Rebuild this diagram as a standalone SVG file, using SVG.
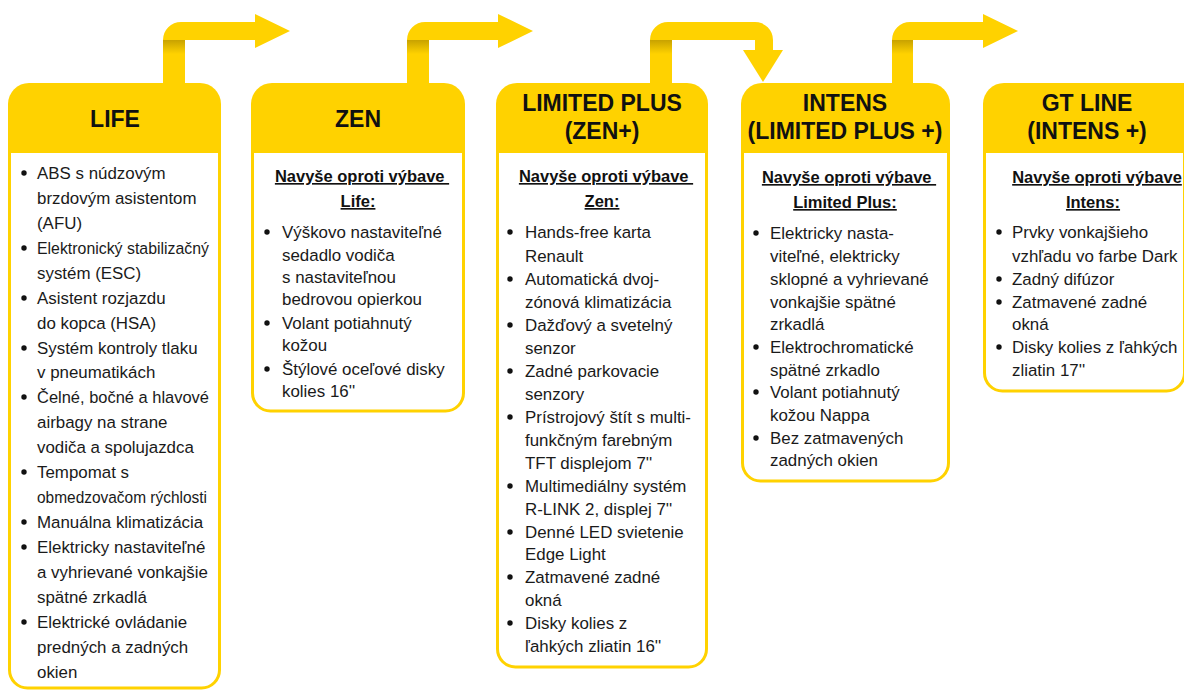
<svg xmlns="http://www.w3.org/2000/svg" width="1184" height="691" viewBox="0 0 1184 691">
<style>
.hdr{fill:#FFD200}
.body{fill:#fff;stroke:#FFD200;stroke-width:3}
.arrow{fill:#FFD200}
.title{font-family:"Liberation Sans",Arial,sans-serif;font-weight:bold;font-size:23px;fill:#111;text-anchor:middle}
.sub{font-family:"Liberation Sans",Arial,sans-serif;font-weight:bold;font-size:16.5px;fill:#111;text-anchor:middle;text-decoration:underline;white-space:pre}
.t{font-family:"Liberation Sans",Arial,sans-serif;font-size:16.9px;fill:#1a1a1a}
.dot{fill:#111}
</style>
<defs>
<linearGradient id="shade" x1="0" y1="0" x2="0" y2="1">
<stop offset="0" stop-color="#C8A200"/>
<stop offset="1" stop-color="#FFD200"/>
</linearGradient>
</defs>
<g id="connectors">
<path class="arrow" d="M163,84 V40 A18,18 0 0 1 181,22 H255 V14 L290,31 L255,48 V40 H185 V84 Z"/>
<rect x="163" y="40" width="22" height="14" fill="url(#shade)"/>
<path class="arrow" d="M407,84 V40 A18,18 0 0 1 425,22 H498 V14 L533,31 L498,48 V40 H429 V84 Z"/>
<rect x="407" y="40" width="22" height="14" fill="url(#shade)"/>
<path class="arrow" d="M650,84 V40 A18,18 0 0 1 668,22 H755 A18,18 0 0 1 773,40 V50 H783 L763,82 L743,50 H755 V40 H672 V84 Z"/>
<rect x="650" y="40" width="22" height="14" fill="url(#shade)"/>
<path class="arrow" d="M892,84 V40 A18,18 0 0 1 910,22 H983 V14 L1018,31 L983,48 V40 H913 V84 Z"/>
<rect x="892" y="40" width="21" height="14" fill="url(#shade)"/>
</g>
<g id="life">
<rect class="body" x="9.5" y="100" width="210" height="588" rx="18"/>
<path class="hdr" d="M8,153 V104 A21,21 0 0 1 29,83 H200 A21,21 0 0 1 221,104 V153 Z"/>
<text class="title" x="115" y="127">LIFE</text>
<g class="t">
<text x="37" y="179">ABS s núdzovým</text>
<text x="37" y="204">brzdovým asistentom</text>
<text x="37" y="229">(AFU)</text>
<text x="37" y="254" textLength="172" lengthAdjust="spacingAndGlyphs">Elektronický stabilizačný</text>
<text x="37" y="279">systém (ESC)</text>
<text x="37" y="304">Asistent rozjazdu</text>
<text x="37" y="329">do kopca (HSA)</text>
<text x="37" y="354">Systém kontroly tlaku</text>
<text x="37" y="378">v pneumatikách</text>
<text x="37" y="403" textLength="172" lengthAdjust="spacingAndGlyphs">Čelné, bočné a hlavové</text>
<text x="37" y="428">airbagy na strane</text>
<text x="37" y="453">vodiča a spolujazdca</text>
<text x="37" y="478">Tempomat s</text>
<text x="37" y="503" textLength="170" lengthAdjust="spacingAndGlyphs">obmedzovačom rýchlosti</text>
<text x="37" y="528">Manuálna klimatizácia</text>
<text x="37" y="553">Elektricky nastaviteľné</text>
<text x="37" y="578">a vyhrievané vonkajšie</text>
<text x="37" y="603">spätné zrkadlá</text>
<text x="37" y="628">Elektrické ovládanie</text>
<text x="37" y="653">predných a zadných</text>
<text x="37" y="678">okien</text>
</g>
<circle class="dot" cx="24" cy="173" r="2.7"/>
<circle class="dot" cx="24" cy="248" r="2.7"/>
<circle class="dot" cx="24" cy="298" r="2.7"/>
<circle class="dot" cx="24" cy="348" r="2.7"/>
<circle class="dot" cx="24" cy="397" r="2.7"/>
<circle class="dot" cx="24" cy="472" r="2.7"/>
<circle class="dot" cx="24" cy="522" r="2.7"/>
<circle class="dot" cx="24" cy="547" r="2.7"/>
<circle class="dot" cx="24" cy="622" r="2.7"/>
</g>
<g id="zen">
<rect class="body" x="252.5" y="100" width="211" height="311" rx="18"/>
<path class="hdr" d="M251,153 V104 A21,21 0 0 1 272,83 H444 A21,21 0 0 1 465,104 V153 Z"/>
<text class="title" x="358" y="127">ZEN</text>
<text class="sub" x="362" y="182">Navyše oproti výbave </text>
<text class="sub" x="358" y="207">Life:</text>
<g class="t">
<text x="282" y="238">Výškovo nastaviteľné</text>
<text x="282" y="261">sedadlo vodiča</text>
<text x="282" y="283">s nastaviteľnou</text>
<text x="282" y="305">bedrovou opierkou</text>
<text x="282" y="329">Volant potiahnutý</text>
<text x="282" y="351">kožou</text>
<text x="282" y="375">Štýlové oceľové disky</text>
<text x="282" y="397">kolies 16''</text>
</g>
<circle class="dot" cx="267" cy="232" r="2.7"/>
<circle class="dot" cx="267" cy="323" r="2.7"/>
<circle class="dot" cx="267" cy="369" r="2.7"/>
</g>
<g id="limited-plus">
<rect class="body" x="497.5" y="100" width="209" height="567" rx="18"/>
<path class="hdr" d="M496,153 V104 A21,21 0 0 1 517,83 H687 A21,21 0 0 1 708,104 V153 Z"/>
<text class="title" x="602" y="111">LIMITED PLUS</text>
<text class="title" x="602" y="139">(ZEN+)</text>
<text class="sub" x="606" y="182">Navyše oproti výbave </text>
<text class="sub" x="602" y="207">Zen:</text>
<g class="t">
<text x="525" y="238">Hands-free karta</text>
<text x="525" y="262">Renault</text>
<text x="525" y="285">Automatická dvoj-</text>
<text x="525" y="308">zónová klimatizácia</text>
<text x="525" y="331">Dažďový a svetelný</text>
<text x="525" y="354">senzor</text>
<text x="525" y="377">Zadné parkovacie</text>
<text x="525" y="400">senzory</text>
<text x="525" y="423" textLength="166" lengthAdjust="spacingAndGlyphs">Prístrojový štít s multi-</text>
<text x="525" y="446">funkčným farebným</text>
<text x="525" y="469">TFT displejom 7''</text>
<text x="525" y="492">Multimediálny systém</text>
<text x="525" y="515">R-LINK 2, displej 7''</text>
<text x="525" y="538">Denné LED svietenie</text>
<text x="525" y="560">Edge Light</text>
<text x="525" y="583">Zatmavené zadné</text>
<text x="525" y="606">okná</text>
<text x="525" y="629">Disky kolies z</text>
<text x="525" y="652">ľahkých zliatin 16''</text>
</g>
<circle class="dot" cx="510" cy="232" r="2.7"/>
<circle class="dot" cx="510" cy="279" r="2.7"/>
<circle class="dot" cx="510" cy="325" r="2.7"/>
<circle class="dot" cx="510" cy="371" r="2.7"/>
<circle class="dot" cx="510" cy="417" r="2.7"/>
<circle class="dot" cx="510" cy="486" r="2.7"/>
<circle class="dot" cx="510" cy="532" r="2.7"/>
<circle class="dot" cx="510" cy="577" r="2.7"/>
<circle class="dot" cx="510" cy="623" r="2.7"/>
</g>
<g id="intens">
<rect class="body" x="742.5" y="100" width="206" height="381" rx="18"/>
<path class="hdr" d="M741,153 V104 A21,21 0 0 1 762,83 H929 A21,21 0 0 1 950,104 V153 Z"/>
<text class="title" x="845" y="111">INTENS</text>
<text class="title" x="845" y="139">(LIMITED PLUS +)</text>
<text class="sub" x="849" y="183">Navyše oproti výbave </text>
<text class="sub" x="845" y="208">Limited Plus:</text>
<g class="t">
<text x="770" y="239">Elektricky nasta-</text>
<text x="770" y="262">viteľné, elektricky</text>
<text x="770" y="285">sklopné a vyhrievané</text>
<text x="770" y="308">vonkajšie spätné</text>
<text x="770" y="330">zrkadlá</text>
<text x="770" y="353">Elektrochromatické</text>
<text x="770" y="376">spätné zrkadlo</text>
<text x="770" y="398">Volant potiahnutý</text>
<text x="770" y="421">kožou Nappa</text>
<text x="770" y="444">Bez zatmavených</text>
<text x="770" y="466">zadných okien</text>
</g>
<circle class="dot" cx="756" cy="233" r="2.7"/>
<circle class="dot" cx="756" cy="347" r="2.7"/>
<circle class="dot" cx="756" cy="392" r="2.7"/>
<circle class="dot" cx="756" cy="438" r="2.7"/>
</g>
<g id="gt-line">
<rect class="body" x="984.5" y="100" width="200" height="291" rx="18"/>
<path class="hdr" d="M983,153 V104 A21,21 0 0 1 1004,83 H1186 V153 Z"/>
<text class="title" x="1087" y="111">GT LINE</text>
<text class="title" x="1087" y="139">(INTENS +)</text>
<text class="sub" x="1097" y="183">Navyše oproti výbave</text>
<text class="sub" x="1093" y="208">Intens:</text>
<g class="t">
<text x="1012" y="238">Prvky vonkajšieho</text>
<text x="1012" y="262">vzhľadu vo farbe Dark</text>
<text x="1012" y="285">Zadný difúzor</text>
<text x="1012" y="308">Zatmavené zadné</text>
<text x="1012" y="330">okná</text>
<text x="1012" y="353">Disky kolies z ľahkých</text>
<text x="1012" y="376">zliatin 17''</text>
</g>
<circle class="dot" cx="999" cy="232" r="2.7"/>
<circle class="dot" cx="999" cy="279" r="2.7"/>
<circle class="dot" cx="999" cy="302" r="2.7"/>
<circle class="dot" cx="999" cy="347" r="2.7"/>
</g>
</svg>
